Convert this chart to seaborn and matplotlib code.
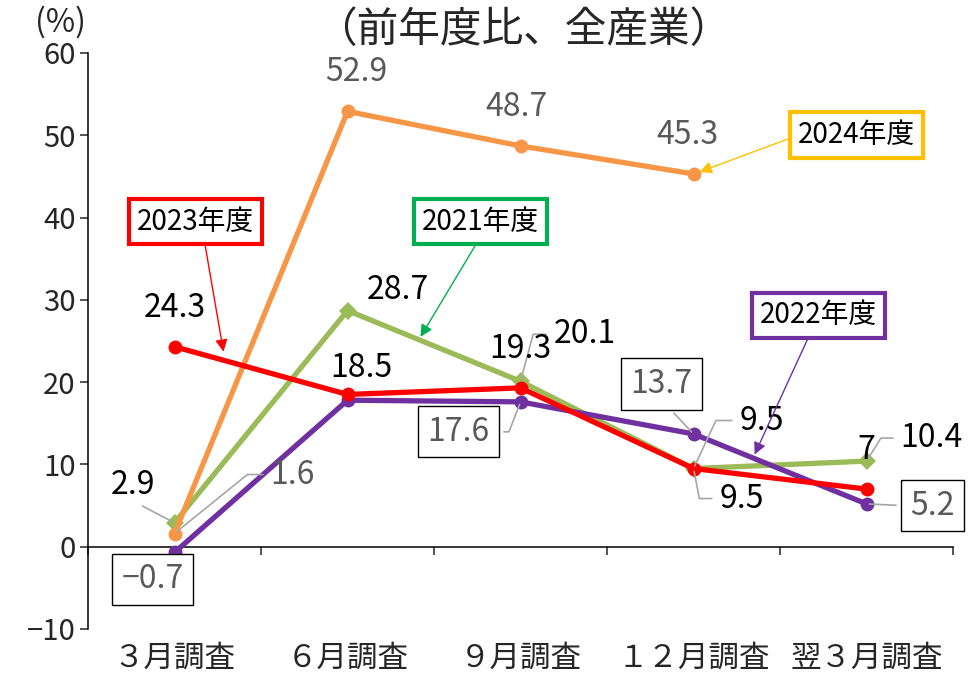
import matplotlib
matplotlib.use('Agg')
import matplotlib.pyplot as plt
import seaborn as sns
import numpy as np
import pandas as pd

sns.set_style('white')
plt.rcParams['font.family'] = ['Noto Sans CJK JP', 'DejaVu Sans']

# data
categories = ['３月調査', '６月調査', '９月調査', '１２月調査', '翌３月調査']
fy2021 = [2.9, 28.7, 20.1, 9.5, 10.4]
fy2022 = [-0.7, 17.8, 17.6, 13.7, 5.2]
fy2023 = [24.3, 18.5, 19.3, 9.5, 7.0]
fy2024 = [1.6, 52.9, 48.7, 45.3]
y_ticks = [-10, 0, 10, 20, 30, 40, 50, 60]

GREEN = '#9BBB59'
PURPLE = '#7030A0'
RED = '#FF0000'
ORANGE = '#F79646'
GREY_TXT = '#595959'
LEADER = '#A6A6A6'

fig = plt.figure(figsize=(9.8, 6.78), dpi=100)
ax = fig.add_axes([0.0898, 0.0723, 0.8827, 0.8496])

pos = np.arange(len(categories))
sns.lineplot(x=pos, y=fy2021, ax=ax, color=GREEN, lw=3.8, marker='D', markersize=9,
             markeredgewidth=0, zorder=2)
sns.lineplot(x=pos[:len(fy2024)], y=fy2024, ax=ax, color=ORANGE, lw=3.8, marker='o',
             markersize=10, markeredgewidth=0, zorder=3)
sns.lineplot(x=pos, y=fy2022, ax=ax, color=PURPLE, lw=3.8, marker='o', markersize=10,
             markeredgewidth=0, zorder=4)
sns.lineplot(x=pos, y=fy2023, ax=ax, color=RED, lw=3.8, marker='o', markersize=10,
             markeredgewidth=0, zorder=5)

ax.set_xlim(-0.5, len(categories) - 0.5)
ax.set_ylim(-10, 60)
ax.set_yticks(y_ticks)
ax.set_xticks(np.arange(-0.5, len(categories), 1.0))
ax.set_xticklabels([])
ax.tick_params(axis='y', direction='out', length=6, width=1.1, labelsize=21, pad=3, left=True)
ax.tick_params(axis='x', direction='out', length=6, width=1.1, bottom=True)
for s in ['top', 'right']:
    ax.spines[s].set_visible(False)
ax.spines['left'].set_linewidth(1.1)
ax.spines['bottom'].set_linewidth(1.1)
ax.spines['left'].set_color('black')
ax.spines['bottom'].set_color('black')
ax.spines['bottom'].set_position(('data', 0))
ax.set_xlabel('')
ax.set_ylabel('')
ax.grid(False)

# category labels along the bottom edge
sec = ax.secondary_xaxis(0)
sec.set_xticks(pos, categories)
sec.tick_params(length=0, labelsize=22, pad=10)
sec.spines['bottom'].set_visible(False)

fig.text(523 / 980, 1 - 31 / 678, '（前年度比、全産業）', fontsize=30, ha='center', va='center')
fig.text(60 / 980, 1 - 22 / 678, '(%)', fontsize=23, ha='center', va='center')


def label(x, y, s, dx, dy, color, box=False, leader=None, relpos=(0.5, 0.5)):
    kw = {}
    if box:
        kw['bbox'] = dict(boxstyle='square,pad=0.3', fc='white', ec='black', lw=1)
    if leader is not None:
        kw['arrowprops'] = dict(arrowstyle='-', color=LEADER, lw=1.2, shrinkA=3, shrinkB=2,
                                connectionstyle=leader, relpos=relpos)
    ax.annotate(s, (x, y), xytext=(dx, dy), textcoords='offset pixels', ha='center',
                va='center', fontsize=23, color=color, zorder=6, **kw)


# 2024 (orange)
label(1, fy2024[1], '52.9', 9, 39, GREY_TXT)
label(2, fy2024[2], '48.7', -4, 39, GREY_TXT)
label(3, fy2024[3], '45.3', -6, 39, GREY_TXT)
label(0, fy2024[0], '1.6', 118, 59, GREY_TXT, leader='angle,angleA=0,angleB=39,rad=0',
      relpos=(0, 0.5))

# 2021 (green)
label(0, fy2021[0], '2.9', -42, 38, 'black', leader='arc3', relpos=(0.5, 0))
label(1, fy2021[1], '28.7', 50, 21, 'black')
label(2, fy2021[2], '20.1', 64, 47, 'black', leader='angle,angleA=0,angleB=75,rad=0',
      relpos=(0, 0.5))
label(3, fy2021[3], '9.5', 68, 48, 'black', leader='angle,angleA=0,angleB=65,rad=0',
      relpos=(0, 0.5))
label(4, fy2021[4], '10.4', 65, 23, 'black', leader='angle,angleA=0,angleB=58,rad=0',
      relpos=(0, 0.5))

# 2023 (red)
label(0, fy2023[0], '24.3', 0, 39, 'black')
label(1, fy2023[1], '18.5', 14, 26, 'black')
label(2, fy2023[2], '19.3', 0, 39, 'black')
label(3, fy2023[3], '9.5', 48, -30, 'black', leader='angle,angleA=0,angleB=-79,rad=0',
      relpos=(0, 0.5))
label(4, fy2023[4], '7', 0, 39, 'black')

# 2022 (purple)
label(0, fy2022[0], '−0.7', -22, -27, GREY_TXT, box=True)
label(2, fy2022[2], '17.6', -62, -30, GREY_TXT, box=True,
      leader='angle,angleA=0,angleB=69,rad=0', relpos=(1, 0.5))
label(3, fy2022[3], '13.7', -32, 50, GREY_TXT, box=True, leader='arc3', relpos=(0.5, 0))
label(4, fy2022[4], '5.2', 66, -2, GREY_TXT, box=True, leader='arc3', relpos=(0, 0.5))


def callout(s, xy, xytext, color, relpos):
    ax.annotate(s, xy=xy, xytext=xytext, textcoords='data', ha='center', va='center',
                fontsize=20, color='black', zorder=7,
                bbox=dict(boxstyle='square,pad=0.28', fc='white', ec=color, lw=3),
                arrowprops=dict(arrowstyle='-|>', color=color, lw=1, mutation_scale=18,
                                shrinkA=0, shrinkB=0, relpos=relpos))


callout('2023年度', (0.283, 23.7), (0.121, 39.5), RED, (0.57, 0))
callout('2021年度', (1.422, 25.5), (1.769, 39.5), '#00B050', (0.5, 0))
callout('2022年度', (3.353, 11.2), (3.723, 28.1), PURPLE, (0.44, 0))
callout('2024年度', (3.035, 45.55), (3.942, 50.0), '#FFC000', (0, 0.5))

fig.savefig('out.png', dpi=100)
